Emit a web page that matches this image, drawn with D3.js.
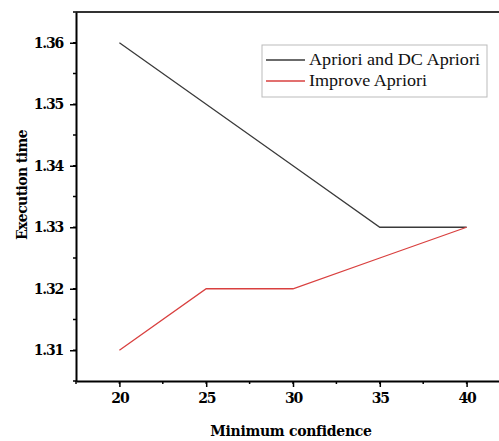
<!DOCTYPE html>
<html>
<head>
<meta charset="utf-8">
<script src="https://cdn.jsdelivr.net/npm/d3@7"></script>
<style>
  body { margin: 0; background: #fff; }
  svg { display: block; }
  text { font-family: "Liberation Serif", "Times New Roman", serif; }
  .bold { font-family: "DejaVu Serif", serif; font-weight: bold; }
</style>
</head>
<body>
<div id="chart"></div>
<script>
(function() {
    let w = 499,
        h = 441;

    // data
    let confidence = [20, 25, 30, 35, 40];
    let apriori = [1.36, 1.35, 1.34, 1.33, 1.33];
    let improve = [1.31, 1.32, 1.32, 1.325, 1.33];
    let seriesNames = ["Apriori and DC Apriori", "Improve Apriori"];
    let seriesColors = ["#3a3a3a", "#d9403f"];
    let xTicks = [20, 25, 30, 35, 40];
    let yTicks = [1.31, 1.32, 1.33, 1.34, 1.35, 1.36];

    let left = 76, top = 12, bottom = 381, right = 510;

    let svg = d3.select("#chart")
        .append("svg")
        .attr("width", w)
        .attr("height", h);

    let x = d3.scaleLinear().domain([17.5, 42.5]).range([left, right]);
    let y = d3.scaleLinear().domain([1.305, 1.365]).range([bottom, top]);

    // frame (top + right, mostly clipped)
    svg.append("path")
        .attr("d", `M${left},${top}H${right}V${bottom}`)
        .attr("fill", "none")
        .attr("stroke", "#333")
        .attr("stroke-width", 2);

    // minor ticks
    let minorX = d3.range(17.5, 42.6, 2.5);
    svg.append("g").selectAll("line").data(minorX).enter().append("line")
        .attr("x1", d => x(d)).attr("x2", d => x(d))
        .attr("y1", bottom).attr("y2", bottom + 3)
        .attr("stroke", "#000").attr("stroke-width", 1.5);
    let minorY = d3.range(1.305, 1.3651, 0.005);
    svg.append("g").selectAll("line").data(minorY).enter().append("line")
        .attr("x1", left - 3).attr("x2", left)
        .attr("y1", d => y(d)).attr("y2", d => y(d))
        .attr("stroke", "#000").attr("stroke-width", 1.5);

    let xAxis = svg.append("g")
        .attr("transform", `translate(0,${bottom})`)
        .call(d3.axisBottom(x).tickValues(xTicks).tickSize(6).tickPadding(6).tickSizeOuter(0));
    let yAxis = svg.append("g")
        .attr("transform", `translate(${left},0)`)
        .call(d3.axisLeft(y).tickValues(yTicks).tickSize(6).tickPadding(7).tickSizeOuter(0)
            .tickFormat(d3.format(".2f")));

    [xAxis, yAxis].forEach(g => {
        g.attr("font-family", null);
        g.select(".domain").attr("stroke", "#000").attr("stroke-width", 2);
        g.selectAll(".tick line").attr("stroke", "#000").attr("stroke-width", 1.5);
        g.selectAll(".tick text")
            .attr("class", "bold")
            .attr("fill", "#000")
            .attr("letter-spacing", "-1.2")
            .style("font-size", "14px");
    });

    // axis titles
    svg.append("text")
        .attr("class", "bold")
        .attr("x", 291)
        .attr("y", 436)
        .attr("text-anchor", "middle")
        .attr("letter-spacing", "-0.3")
        .style("font-size", "14px")
        .text("Minimum confidence");
    svg.append("text")
        .attr("class", "bold")
        .attr("transform", "translate(27,185) rotate(-90)")
        .attr("text-anchor", "middle")
        .attr("letter-spacing", "-0.6")
        .style("font-size", "14px")
        .text("Execution time");

    // lines
    let line = d3.line().x((d, i) => x(confidence[i])).y(d => y(d));
    [apriori, improve].forEach((s, k) => {
        svg.append("path")
            .datum(s)
            .attr("d", line)
            .attr("fill", "none")
            .attr("stroke", seriesColors[k])
            .attr("stroke-width", 1.3);
    });

    // legend
    let lg = svg.append("g").attr("transform", "translate(262,45)");
    lg.append("rect")
        .attr("width", 225).attr("height", 52)
        .attr("fill", "#fff")
        .attr("stroke", "#bbb").attr("stroke-width", 1);
    let legendLen = [171, 118];
    seriesNames.forEach((name, k) => {
        let yy = 15 + k * 21;
        lg.append("line")
            .attr("x1", 4).attr("x2", 43)
            .attr("y1", yy).attr("y2", yy)
            .attr("stroke", seriesColors[k]).attr("stroke-width", 1.3);
        lg.append("text")
            .attr("x", 47).attr("y", yy + 5)
            .attr("textLength", legendLen[k])
            .attr("lengthAdjust", "spacingAndGlyphs")
            .style("font-size", "17px")
            .attr("fill", "#111")
            .text(name);
    });
})();
</script>
</body>
</html>
